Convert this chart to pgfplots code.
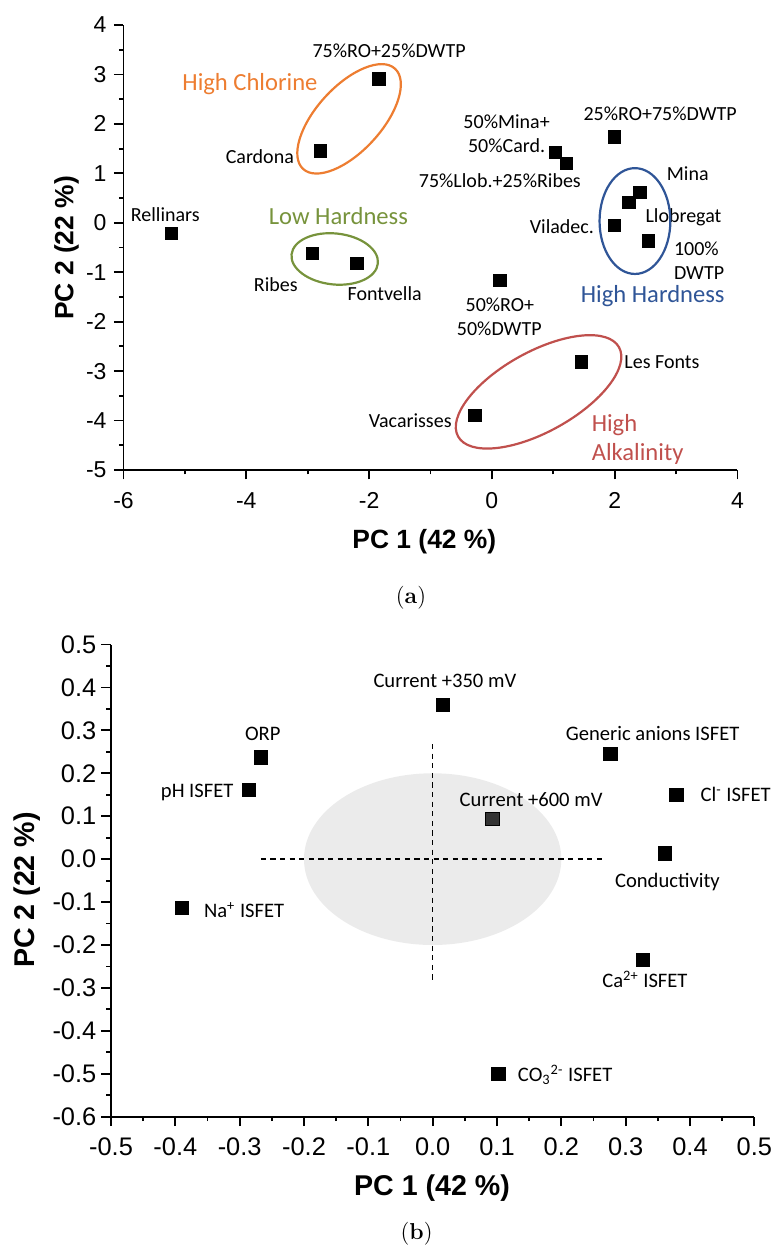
\documentclass[border=0pt]{standalone}
\usepackage{pgfplots}
\pgfplotsset{compat=1.18}
\usepackage{fontspec}
\newfontfamily\arial{Liberation Sans}
\newfontfamily\calib{Carlito}

\definecolor{orng}{RGB}{237,125,49}
\definecolor{grn}{RGB}{119,147,60}
\definecolor{blu}{RGB}{47,85,151}
\definecolor{rd}{RGB}{192,80,77}

\pgfplotsset{
  pca/.style={
    scale only axis, anchor=south west,
    axis lines*=left,
    axis line style={line width=0.9pt, black},
    tick align=outside,
    major tick length=4.75pt, minor tick length=2.25pt,
    tick style={line width=0.9pt, black},
    enlargelimits=false, clip=false,
    xticklabel style={anchor=base, inner sep=0pt},
    yticklabel style={anchor=east, inner sep=0pt},
    xlabel style={anchor=center},
    ylabel style={anchor=center},
  },
}
\tikzset{
  lb/.style={font=\calib\fontsize{10}{12}\selectfont, inner sep=0pt, text height=6.44pt, text depth=0pt},
  lbb/.style={font=\calib\fontsize{10.3}{12}\selectfont, inner sep=0pt, text height=6.63pt, text depth=0pt},
  gl/.style={font=\calib\fontsize{12.3}{14}\selectfont, inner sep=0pt, text height=7.92pt, text depth=0pt},
}

\begin{document}
\begin{tikzpicture}[x=1pt,y=1pt]
\useasboundingbox (0,0) rectangle (387.5,623.5);

% (a) scores
\begin{axis}[pca, at={(61.75pt,388.5pt)}, width=307pt, height=222.5pt,
  xmin=-6, xmax=4, ymin=-5, ymax=4,
  xtick={-6,-4,-2,0,2,4}, xticklabels={-6,-4,-2,0,2,4},
  minor xtick={-5,-3,-1,1,3},
  ytick={-5,-4,-3,-2,-1,0,1,2,3,4}, yticklabels={-5,-4,-3,-2,-1,0,1,2,3,4},
  minor ytick={-4.5,-3.5,-2.5,-1.5,-0.5,0.5,1.5,2.5,3.5},
  tick label style={font=\arial\fontsize{11.5}{13}\selectfont},
  xticklabel style={yshift=-14.5pt},
  yticklabel style={xshift=-3.55pt},
  xlabel={PC 1 (42 \%)}, ylabel={PC 2 (22 \%)},
  label style={font=\arial\bfseries\fontsize{13.2}{16}\selectfont},
  xlabel style={at={(axis description cs:0.49,-0.161)}},
  ylabel style={at={(axis description cs:-0.0928,0.499)}},
]
\addplot[only marks, mark=square*, mark size=3.1pt, mark options={draw=none, fill=black}]
  coordinates {(-1.84,2.91) (-2.79,1.45) (-5.22,-0.22) (-2.92,-0.62) (-2.20,-0.82)
  (0.13,-1.16) (-0.28,-3.90) (1.46,-2.81) (1.03,1.42) (1.21,1.20) (2.00,1.74)
  (2.41,0.61) (2.23,0.41) (2.00,-0.05) (2.55,-0.37)};
\coordinate (eO) at (axis cs:-2.327,2.104);
\coordinate (eG) at (axis cs:-2.56,-0.732);
\coordinate (eB) at (axis cs:2.33,0.035);
\coordinate (eR) at (axis cs:0.76,-3.42);
\node[lb] at (axis cs:-1.675,3.48) {75\%RO+25\%DWTP};
\node[lb] at (axis cs:-3.78,1.335) {Cardona};
\node[lb] at (axis cs:-5.32,0.155) {Rellinars};
\node[lb] at (axis cs:-3.52,-1.26) {Ribes};
\node[lb] at (axis cs:-1.746,-1.443) {Fontvella};
\node[lb] at (axis cs:0.13,-1.666) {50\%RO+};
\node[lb] at (axis cs:0.12,-2.15) {50\%DWTP};
\node[lb] at (axis cs:0.24,2.03) {50\%Mina+};
\node[lb] at (axis cs:0.24,1.55) {50\%Card.};
\node[lb] at (axis cs:0.13,0.85) {75\%Llob.+25\%Ribes};
\node[lb] at (axis cs:2.74,2.19) {25\%RO+75\%DWTP};
\node[lb] at (axis cs:3.19,0.985) {Mina};
\node[lb] at (axis cs:3.12,0.13) {Llobregat};
\node[lb] at (axis cs:1.14,-0.09) {Viladec.};
\node[lb, anchor=west] at (axis cs:2.96,-0.54) {100\%};
\node[lb, anchor=west] at (axis cs:2.96,-1.01) {DWTP};
\node[lb] at (axis cs:2.77,-2.825) {Les Fonts};
\node[lb] at (axis cs:-1.33,-4.005) {Vacarisses};
\node[gl, text=orng] at (axis cs:-3.94,2.83) {High Chlorine};
\node[gl, text=grn] at (axis cs:-2.50,0.12) {Low Hardness};
\node[gl, text=blu] at (axis cs:2.62,-1.46) {High Hardness};
\node[gl, text=rd, anchor=west] at (axis cs:1.62,-4.06) {High};
\node[gl, text=rd, anchor=west] at (axis cs:1.62,-4.653) {Alkalinity};
\end{axis}
\draw[orng, line width=1.1pt, rotate around={47.5:(eO)}] (eO) ellipse [x radius=34pt, y radius=16.2pt];
\draw[grn, line width=1.1pt, rotate around={-6:(eG)}] (eG) ellipse [x radius=21.7pt, y radius=12.75pt];
\draw[blu, line width=1.1pt] (eB) ellipse [x radius=17.7pt, y radius=26.45pt];
\draw[rd, line width=1.1pt, rotate around={29:(eR)}] (eR) ellipse [x radius=46pt, y radius=20pt];
\node[font=\fontsize{11.5}{13}\selectfont] at (205.5,324.75) {(\textbf{a})};

% (b) loadings
\begin{axis}[pca, at={(55.5pt,65.15pt)}, width=321.65pt, height=236.1pt,
  xmin=-0.5, xmax=0.5, ymin=-0.6, ymax=0.5,
  xtick={-0.5,-0.4,-0.3,-0.2,-0.1,0,0.1,0.2,0.3,0.4,0.5},
  xticklabels={-0.5,-0.4,-0.3,-0.2,-0.1,0.0,0.1,0.2,0.3,0.4,0.5},
  minor xtick={-0.45,-0.35,-0.25,-0.15,-0.05,0.05,0.15,0.25,0.35,0.45},
  ytick={-0.6,-0.5,-0.4,-0.3,-0.2,-0.1,0,0.1,0.2,0.3,0.4,0.5},
  yticklabels={-0.6,-0.5,-0.4,-0.3,-0.2,-0.1,0.0,0.1,0.2,0.3,0.4,0.5},
  minor ytick={-0.55,-0.45,-0.35,-0.25,-0.15,-0.05,0.05,0.15,0.25,0.35,0.45},
  tick label style={font=\arial\fontsize{12.7}{15}\selectfont},
  xticklabel style={yshift=-14.85pt},
  yticklabel style={xshift=-2.4pt},
  xlabel={PC 1 (42 \%)}, ylabel={PC 2 (22 \%)},
  label style={font=\arial\bfseries\fontsize{14.3}{17}\selectfont},
  xlabel style={at={(axis description cs:0.499,-0.152)}},
  ylabel style={at={(axis description cs:-0.1298,0.48)}},
]
\fill[black!8] (axis cs:0,0) ellipse [x radius=0.2, y radius=0.2];
\draw[line width=0.7pt, dash pattern=on 2.6pt off 2.2pt] (axis cs:-0.267,0) -- (axis cs:0.267,0);
\draw[line width=0.7pt, dash pattern=on 2.6pt off 2.2pt] (axis cs:0,0.268) -- (axis cs:0,-0.289);
\addplot[only marks, mark=square*, mark size=3.35pt, mark options={draw=none, fill=black}]
  coordinates {(0.016,0.360) (-0.267,0.237) (-0.286,0.161) (0.276,0.245) (0.379,0.150)
  (0.361,0.013) (-0.390,-0.114) (0.327,-0.235) (0.102,-0.500)};
\addplot[only marks, mark=square*, mark size=3.35pt, mark options={draw=none, fill=black!80}]
  coordinates {(0.093,0.094)};
\node[lbb] at (axis cs:0.019,0.415) {Current +350 mV};
\node[lbb] at (axis cs:-0.264,0.292) {ORP};
\node[lbb, anchor=east] at (axis cs:-0.309,0.159) {pH ISFET};
\node[lbb] at (axis cs:0.342,0.292) {Generic anions ISFET};
\node[lbb] at (axis cs:0.153,0.139) {Current +600 mV};
\node[lbb, anchor=west] at (axis cs:0.416,0.150) {Cl\textsuperscript{-} ISFET};
\node[lbb] at (axis cs:0.365,-0.051) {Conductivity};
\node[lbb, anchor=west] at (axis cs:-0.356,-0.121) {Na\textsuperscript{+} ISFET};
\node[lbb] at (axis cs:0.330,-0.284) {Ca\textsuperscript{2+} ISFET};
\node[lbb, anchor=west] at (axis cs:0.132,-0.503) {CO\textsubscript{3}\textsuperscript{2-} ISFET};
\end{axis}
\node[font=\fontsize{11.5}{13}\selectfont] at (208.3,6.5) {(\textbf{b})};
\end{tikzpicture}
\end{document}
